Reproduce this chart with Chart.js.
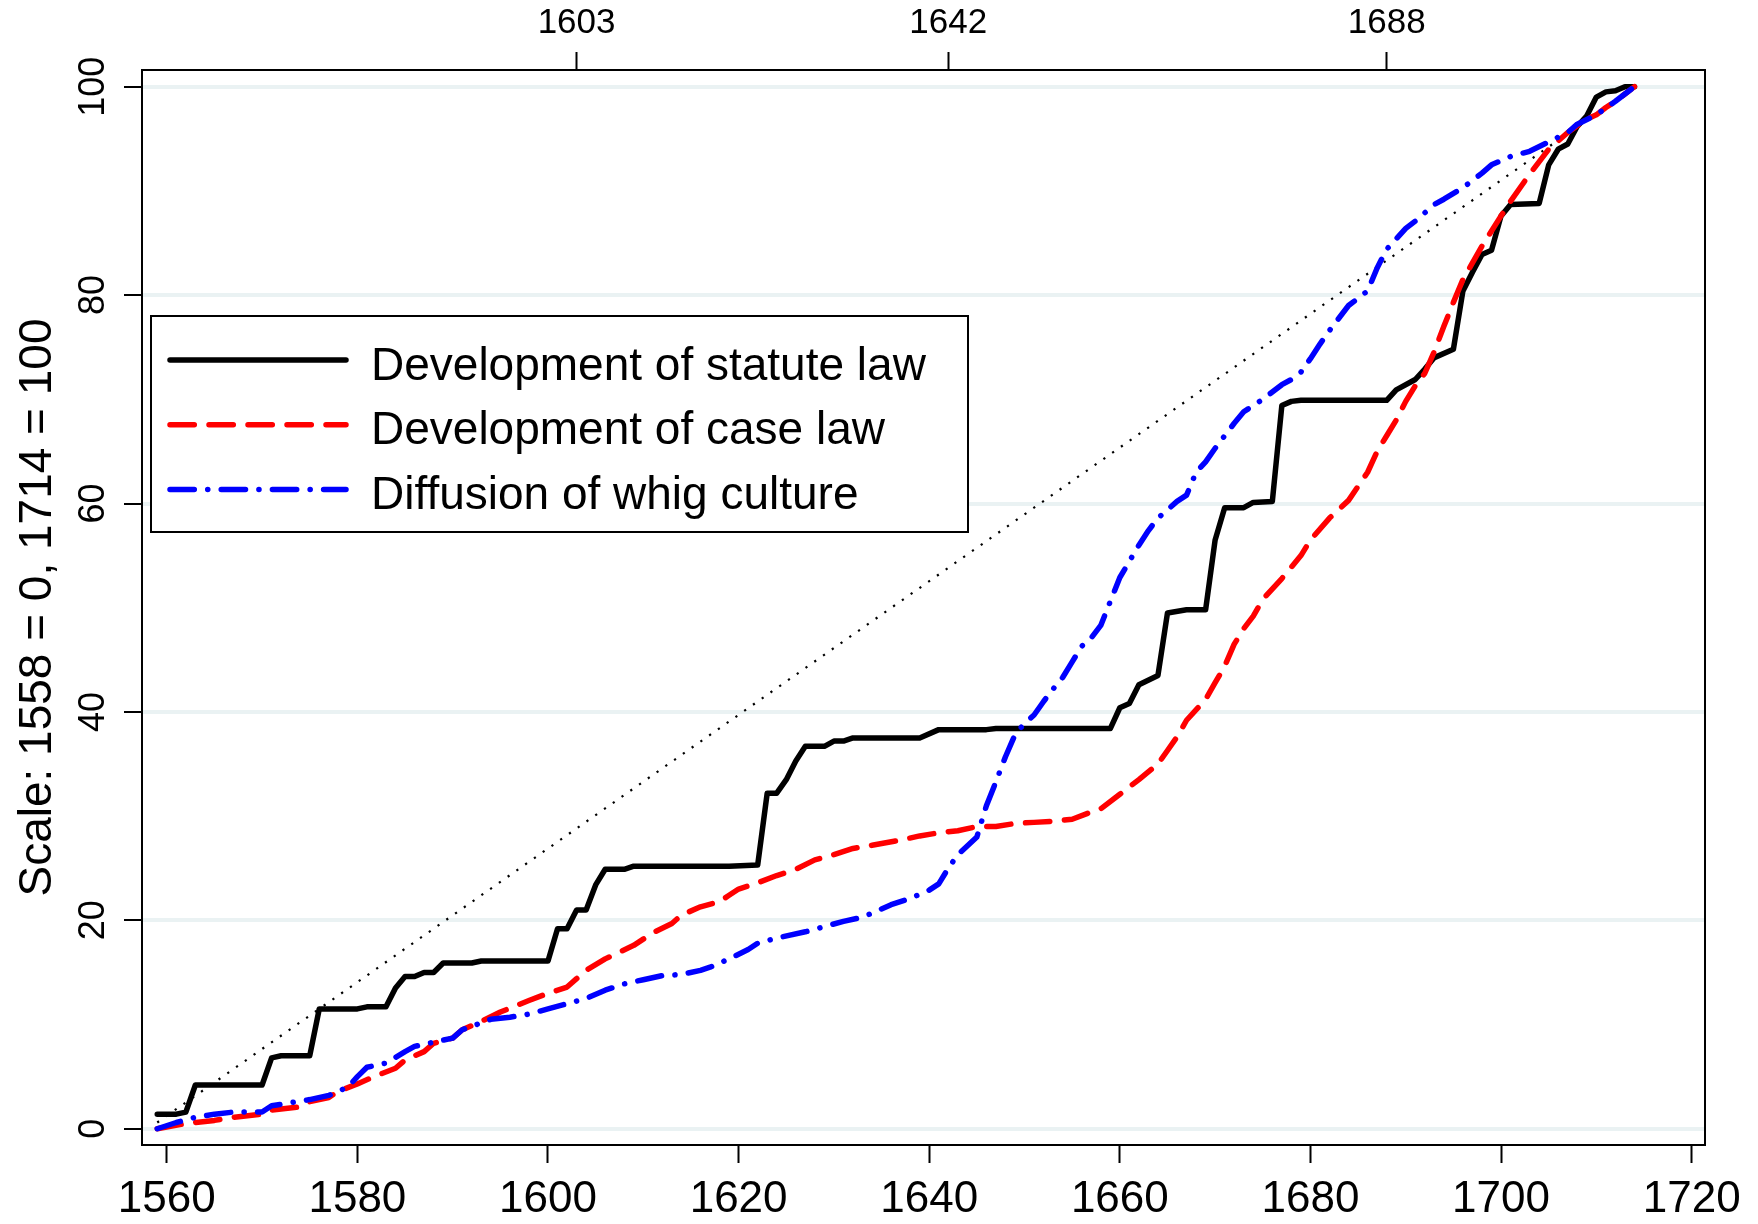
<!DOCTYPE html>
<html>
<head>
<meta charset="utf-8">
<title>Statute law, case law and whig culture, 1558-1714</title>
<script src="https://cdn.jsdelivr.net/npm/chart.js@4.4.1/dist/chart.umd.min.js"></script>
<style>
  html, body { margin: 0; padding: 0; background: #fff; }
  canvas { display: block; }
</style>
</head>
<body>
<canvas id="chart" width="1758" height="1224"></canvas>
<script>
// values (1558 = 0, 1714 = 100)
const statuteYears = [1559, 1561, 1562, 1563, 1570, 1571, 1572, 1575, 1576, 1580, 1581, 1583, 1584, 1585, 1586, 1587, 1588, 1589, 1592, 1593,
  1600, 1601, 1602, 1603, 1604, 1605, 1606, 1608, 1609, 1619, 1622, 1623, 1624, 1625, 1626, 1627, 1629, 1630, 1631, 1632,
  1639, 1641, 1646, 1647, 1659, 1660, 1661, 1662, 1664, 1665, 1667, 1669, 1670, 1671, 1673, 1674, 1676, 1677, 1678, 1679,
  1688, 1689, 1691, 1692, 1693, 1695, 1696, 1697, 1698, 1699, 1700, 1701, 1704, 1705, 1706, 1707, 1708, 1709, 1710, 1711,
  1712, 1713, 1714]
const statuteValues = [1.4, 1.4, 1.6, 4.2, 4.2, 6.8, 7.0, 7.0, 11.5, 11.5, 11.7, 11.7, 13.5, 14.6, 14.6, 15.0, 15.0, 15.9, 15.9, 16.1,
  16.1, 19.2, 19.2, 21.0, 21.0, 23.4, 24.9, 24.9, 25.2, 25.2, 25.3, 32.2, 32.2, 33.5, 35.3, 36.7, 36.7, 37.2, 37.2, 37.5,
  37.5, 38.3, 38.3, 38.4, 38.4, 40.4, 40.8, 42.6, 43.5, 49.5, 49.8, 49.8, 56.5, 59.6, 59.6, 60.1, 60.2, 69.4, 69.8, 69.9,
  69.9, 70.9, 71.9, 72.9, 74.0, 74.8, 80.4, 82.2, 83.9, 84.3, 87.6, 88.7, 88.8, 92.5, 94.0, 94.5, 96.2, 97.2, 99.0, 99.5,
  99.6, 100, 100]

const caseYears = [1559, 1562, 1565, 1567, 1570, 1571, 1574, 1575, 1577, 1578, 1580, 1582, 1584, 1585, 1587, 1588, 1590, 1591, 1593, 1595,
  1598, 1600, 1602, 1603, 1604, 1606, 1609, 1611, 1613, 1614, 1616, 1618, 1619, 1620, 1622, 1624, 1626, 1628, 1630, 1632,
  1634, 1637, 1639, 1641, 1643, 1645, 1647, 1649, 1651, 1653, 1655, 1657, 1658, 1660, 1662, 1664, 1665, 1666, 1667, 1669,
  1670, 1671, 1672, 1673, 1674, 1675, 1677, 1679, 1680, 1682, 1684, 1686, 1687, 1688, 1689, 1690, 1691, 1692, 1693, 1694,
  1695, 1696, 1698, 1700, 1701, 1703, 1705, 1707, 1709, 1710, 1711, 1712, 1714]
const caseValues = [0, 0.5, 0.8, 1.1, 1.4, 1.8, 2.1, 2.6, 3.0, 3.6, 4.3, 5.1, 5.8, 6.6, 7.4, 8.2, 8.7, 9.5, 10.3, 11.2,
  12.3, 13.0, 13.6, 14.4, 15.2, 16.3, 17.6, 18.8, 19.7, 20.5, 21.3, 21.8, 22.4, 23.0, 23.6, 24.3, 24.9, 25.8, 26.3, 26.9,
  27.2, 27.7, 28.1, 28.4, 28.6, 29.0, 29.0, 29.3, 29.4, 29.5, 29.7, 30.4, 30.7, 32.1, 33.5, 35.0, 36.3, 37.6, 39.2, 41.2,
  42.8, 44.4, 46.5, 48.0, 49.2, 50.8, 52.8, 55.0, 56.5, 58.6, 60.3, 63.0, 65.0, 66.5, 68.0, 69.8, 71.3, 72.5, 74.6, 77.0,
  79.3, 81.5, 84.7, 87.6, 89.0, 91.6, 94.0, 95.6, 96.9, 97.3, 98.0, 98.6, 100]

const whigYears = [1559, 1561, 1563, 1565, 1567, 1570, 1571, 1573, 1575, 1577, 1579, 1580, 1581, 1583, 1585, 1586, 1588, 1590, 1591, 1594,
  1596, 1598, 1600, 1602, 1604, 1606, 1608, 1610, 1612, 1614, 1616, 1617, 1619, 1621, 1622, 1624, 1627, 1629, 1631, 1633,
  1636, 1638, 1640, 1641, 1642, 1643, 1645, 1646, 1647, 1648, 1649, 1650, 1651, 1652, 1653, 1654, 1655, 1656, 1657, 1658,
  1659, 1660, 1662, 1663, 1664, 1666, 1667, 1668, 1669, 1670, 1672, 1673, 1675, 1677, 1678, 1679, 1680, 1681, 1682, 1684,
  1686, 1687, 1688, 1690, 1691, 1693, 1694, 1696, 1698, 1699, 1701, 1703, 1705, 1707, 1708, 1710, 1712, 1714]
const whigValues = [0, 0.6, 1.1, 1.4, 1.6, 1.6, 2.2, 2.5, 2.8, 3.2, 4.0, 5.0, 5.9, 6.3, 7.4, 7.9, 8.3, 8.7, 9.5, 10.5,
  10.7, 11.0, 11.5, 12.0, 12.5, 13.3, 13.9, 14.3, 14.7, 14.8, 15.2, 15.5, 16.3, 17.2, 17.8, 18.3, 18.9, 19.4, 19.9, 20.3,
  21.5, 22.1, 22.9, 23.5, 25.0, 26.3, 28.0, 31.0, 33.3, 35.7, 37.8, 38.9, 39.7, 41.0, 42.2, 43.3, 44.8, 46.3, 47.1, 48.3,
  50.6, 52.9, 56.0, 57.4, 58.6, 60.2, 60.8, 63.0, 64.0, 65.3, 67.7, 68.8, 70.0, 71.4, 71.9, 72.6, 73.9, 75.3, 76.6, 79.0,
  80.4, 82.6, 84.4, 86.4, 87.1, 88.7, 89.2, 90.3, 91.7, 92.5, 93.3, 93.8, 94.7, 95.6, 96.4, 97.3, 98.6, 100]

// 45 degree reference: even growth from 1558 to 1714
const evenYears = [1559, 1714]
const evenValues = [0.6, 100]

const bottomTicks = [1560, 1580, 1600, 1620, 1640, 1660, 1680, 1700, 1720]
const topTicks = [1603, 1642, 1688]
const yTicks = [0, 20, 40, 60, 80, 100]

const FONT = "'Liberation Sans', Arial, Helvetica, sans-serif"

const toPoints = (xs, ys) => xs.map((x, i) => ({x, y: ys[i]}))

// draws the box around the plot region
const frame = {
  id: 'frame',
  afterDraw(chart) {
    const {ctx, chartArea: a} = chart
    ctx.save()
    ctx.strokeStyle = '#000'
    ctx.lineWidth = 2
    ctx.strokeRect(a.left, a.top, a.right - a.left, a.bottom - a.top)
    ctx.restore()
  }
}

// boxed legend inside the plot, stata style
const boxLegend = {
  id: 'boxLegend',
  afterDatasetsDraw(chart, args, opts) {
    const {ctx} = chart
    const items = chart.data.datasets.filter((d) => d.inLegend)
    ctx.save()
    ctx.fillStyle = '#fff'
    ctx.fillRect(opts.left, opts.top, opts.width, opts.height)
    ctx.lineWidth = 2
    ctx.strokeStyle = '#000'
    ctx.strokeRect(opts.left, opts.top, opts.width, opts.height)
    ctx.font = opts.font
    ctx.textBaseline = 'alphabetic'
    items.forEach((d, i) => {
      const y = opts.firstRow + i * opts.rowGap
      ctx.beginPath()
      ctx.setLineDash(d.borderDash || [])
      ctx.lineCap = d.borderCapStyle || 'butt'
      ctx.lineWidth = d.borderWidth
      ctx.strokeStyle = d.borderColor
      ctx.moveTo(opts.sampleStart, y)
      ctx.lineTo(opts.sampleEnd, y)
      ctx.stroke()
      ctx.setLineDash([])
      ctx.fillStyle = '#000'
      ctx.fillText(d.label, opts.textX, y + opts.baselineShift)
    })
    ctx.restore()
  }
}

Chart.defaults.font.family = FONT
Chart.defaults.color = '#000'

const xMin = 1557.4
const xMax = 1721.4
const yMin = -1.56
const yMax = 101.6

new Chart(document.getElementById('chart'), {
  type: 'line',
  data: {
    datasets: [
      {
        label: 'Development of statute law',
        data: toPoints(statuteYears, statuteValues),
        borderColor: '#000000',
        borderWidth: 5.5,
        borderCapStyle: 'round',
        inLegend: true,
        order: 2
      },
      {
        label: 'Development of case law',
        data: toPoints(caseYears, caseValues),
        borderColor: '#ff0000',
        borderWidth: 5.5,
        borderDash: [24.3, 14.7],
        borderCapStyle: 'round',
        inLegend: true,
        order: 1
      },
      {
        label: 'Diffusion of whig culture',
        data: toPoints(whigYears, whigValues),
        borderColor: '#0000ff',
        borderWidth: 5.5,
        borderDash: [24.3, 13.4, 0.1, 13.4],
        borderCapStyle: 'round',
        inLegend: true,
        order: 0
      },
      {
        label: 'Even growth',
        data: toPoints(evenYears, evenValues),
        borderColor: '#000000',
        borderWidth: 2.2,
        borderDash: [2.2, 8.5],
        inLegend: false,
        order: 3
      }
    ]
  },
  options: {
    responsive: false,
    animation: false,
    events: [],
    layout: { padding: { left: 0, right: 53, top: 0, bottom: 0 } },
    datasets: {
      line: {
        pointRadius: 0,
        tension: 0,
        fill: false,
        borderJoinStyle: 'round'
      }
    },
    plugins: {
      legend: { display: false },
      tooltip: { enabled: false },
      boxLegend: {
        left: 151,
        top: 316,
        width: 817,
        height: 216,
        firstRow: 360,
        rowGap: 64.7,
        baselineShift: 19.5,
        sampleStart: 170,
        sampleEnd: 346,
        textX: 371,
        font: '46px ' + FONT
      }
    },
    scales: {
      x: {
        type: 'linear',
        position: 'bottom',
        min: xMin,
        max: xMax,
        afterBuildTicks: (s) => { s.ticks = bottomTicks.map((v) => ({value: v})) },
        afterFit: (s) => { s.height = 79 },
        grid: { drawOnChartArea: false, tickLength: 18, tickColor: '#000', tickWidth: 2 },
        border: { display: false },
        ticks: {
          autoSkip: false,
          maxRotation: 0,
          padding: 10,
          font: { size: 44 },
          callback: (v) => String(v)
        }
      },
      x2: {
        type: 'linear',
        axis: 'x',
        position: 'top',
        min: xMin,
        max: xMax,
        afterBuildTicks: (s) => { s.ticks = topTicks.map((v) => ({value: v})) },
        afterFit: (s) => { s.height = 70 },
        grid: { drawOnChartArea: false, tickLength: 18, tickColor: '#000', tickWidth: 2 },
        border: { display: false },
        ticks: {
          autoSkip: false,
          maxRotation: 0,
          padding: 8,
          font: { size: 35 },
          callback: (v) => String(v)
        }
      },
      y: {
        type: 'linear',
        position: 'left',
        min: yMin,
        max: yMax,
        afterBuildTicks: (s) => { s.ticks = yTicks.map((v) => ({value: v})) },
        afterFit: (s) => { s.width = 142 },
        grid: { color: '#eaf2f3', lineWidth: 4, tickLength: 18, tickColor: '#000', tickWidth: 2 },
        border: { display: false },
        ticks: {
          autoSkip: false,
          minRotation: 90,
          maxRotation: 90,
          crossAlign: 'center',
          padding: 0,
          font: { size: 36 },
          callback: (v) => String(v)
        },
        title: {
          display: true,
          text: 'Scale: 1558 = 0, 1714 = 100',
          font: { size: 46 },
          padding: { top: 11, bottom: 0 }
        }
      }
    }
  },
  plugins: [boxLegend, frame]
})
</script>
</body>
</html>
